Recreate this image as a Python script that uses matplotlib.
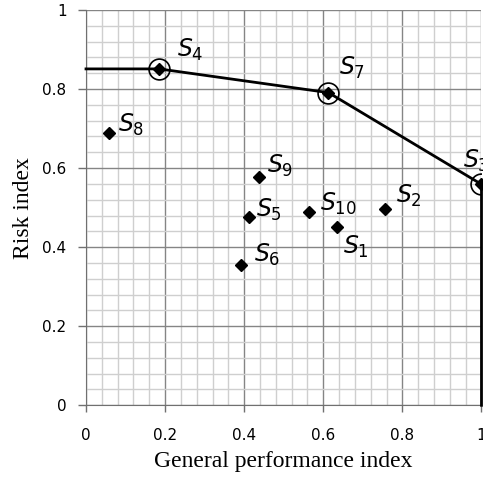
import matplotlib
matplotlib.use("Agg")
import matplotlib.pyplot as plt
import numpy as np

plt.rcParams['mathtext.fontset'] = 'dejavusans'

# scenario points (general performance index, risk index)
names = ['1', '2', '3', '4', '5', '6', '7', '8', '9', '10']
perf = [0.634, 0.757, 1.0, 0.185, 0.413, 0.392, 0.613, 0.058, 0.438, 0.565]
risk = [0.451, 0.496, 0.559, 0.851, 0.476, 0.355, 0.791, 0.689, 0.578, 0.490]

# frontier through S4, S7, S3
front_x = [0.0, 0.185, 0.613, 1.0, 1.0]
front_y = [0.851, 0.851, 0.791, 0.559, 0.0]
circled = ['4', '7', '3']

# label offsets in pixels
offsets = {'1': (6, -27), '2': (11, 6), '3': (-18, 17), '4': (18, 12), '5': (7, 0),
           '6': (13, 3), '7': (11, 18), '8': (9, 1), '9': (8, 4), '10': (11, 1)}

fig = plt.figure(figsize=(4.83, 4.78), dpi=100)
ax = fig.add_axes([86 / 483, 72.7 / 478, 395.5 / 483, 395.3 / 478])

ax.set_xlim(0, 1)
ax.set_ylim(0, 1)
ax.set_xticks(np.arange(0, 1.01, 0.2))
ax.set_yticks(np.arange(0, 1.01, 0.2))
ax.set_xticks(np.arange(0, 1.01, 0.04), minor=True)
ax.set_yticks(np.arange(0, 1.01, 0.04), minor=True)
ax.set_xticklabels(['0', '0.2', '0.4', '0.6', '0.8', '1'])
ax.set_yticklabels(['0', '0.2', '0.4', '0.6', '0.8', '1'])
ax.grid(which='major', color='#858585', lw=1.0)
ax.grid(which='minor', color='#cfcfcf', lw=1.0)
ax.set_axisbelow(True)
ax.tick_params(which='major', length=6, width=1, color='#707070', labelsize=11, pad=8)
ax.tick_params(axis='x', which='major', length=5, pad=11)
ax.tick_params(which='minor', length=0)
for s in ['top', 'right']:
    ax.spines[s].set_visible(False)
for s in ['left', 'bottom']:
    ax.spines[s].set_color('#707070')

ax.plot(front_x, front_y, color='black', lw=2, clip_on=False, zorder=3)
ax.plot(perf, risk, 'D', color='black', ms=6, clip_on=False, zorder=4)
for n, x, y in zip(names, perf, risk):
    if n in circled:
        ax.plot([x], [y], 'o', ms=15, mfc='none', mec='black', mew=1.2, zorder=4)
    ax.annotate('$S_{%s}$' % n, (x, y), xytext=offsets[n], textcoords='offset pixels',
                ha='left', va='baseline', fontsize=17, annotation_clip=False)

ax.set_xlabel('General performance index', family='Liberation Serif', fontsize=17, labelpad=6)
ax.set_ylabel('Risk index', family='Liberation Serif', fontsize=17, labelpad=6)

fig.savefig('out.png', dpi=100)
